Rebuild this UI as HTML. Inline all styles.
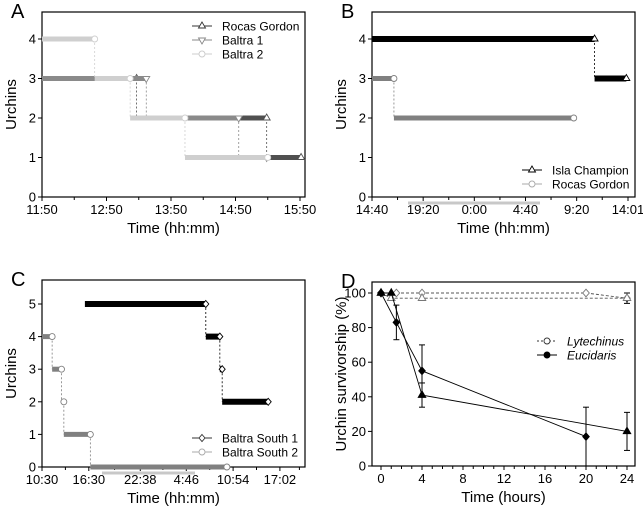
<!DOCTYPE html>
<html><head><meta charset="utf-8"><style>
body{margin:0;background:#fff}
svg{font-family:"Liberation Sans",Arial,sans-serif}
</style></head><body>
<svg id="s" width="643" height="511" viewBox="0 0 643 511"></svg>
<script>
// ---- Panel A data (minutes from 11:50) ----
const aTicks=["11:50","12:50","13:50","14:50","15:50"];
const aRocasX=[0,88,209,241], aRocasY=[3,2,1];
const aB1X=[0,97,183,209], aB1Y=[3,2,1];
const aB2X=[0,49,82,133,210], aB2Y=[4,3,2,1];
// ---- Panel B data (hours from 14:40) ----
const bTicks=["14:40","19:20","0:00","4:40","9:20","14:01"];
const bIslaX=[0,20.3,23.2], bIslaY=[4,3];
const bRocasX=[0,2.0,18.4], bRocasY=[3,2];
// ---- Panel C data (hours from 10:30) ----
const cTicks=["10:30","16:30","22:38","4:46","10:54","17:02"];
const cS1X=[5.5,21,22.8,23.1,29], cS1Y=[5,4,3,2];
const cS2X=[0,1.3,2.5,2.8,6.2,23.7], cS2Y=[4,3,2,1,0];
// ---- Panel D data ----
const dTicks=[0,4,8,12,16,20,24];
const lytDX=[0,1.5,4,20,24], lytDY=[100,100,100,100,97];
const lytTX=[0,1,4,24], lytTY=[100,97,97,97], lytTE=[0,0,0,3];
const eucDX=[0,1.5,4,20], eucDY=[100,83,55,17], eucDE=[0,10,15,17];
const eucTX=[0,1,4,24], eucTY=[100,100,41,20], eucTE=[0,0,7,11];

const S=document.getElementById('s'),NS="http://www.w3.org/2000/svg";
function el(t,a,p){const e=document.createElementNS(NS,t);for(const k in a)e.setAttribute(k,a[k]);(p||S).appendChild(e);return e;}
function txt(x,y,s,a,p){const e=el('text',Object.assign({x:x,y:y},a||{}),p);e.textContent=s;return e;}

function panel(name,L,R,T,B,letter,ylabel,xlabel){
  const g=el('g',{});
  
  
  const f=el('rect',{x:L,y:T,width:R-L,height:B-T,fill:'none',stroke:'#000','stroke-width':1.2},g);
  
  const l=txt(L-31,T+6,letter,{'font-size':20},g);
  
  const yl=txt(0,0,ylabel,{'font-size':15,'text-anchor':'middle',transform:`translate(${L-26},${(T+B)/2}) rotate(-90)`},g);
  
  const xl=txt((L+R)/2,B+36,xlabel,{'font-size':15,'text-anchor':'middle'},g);
  
  return g;
}
function yaxis(g,L,vals,sy,fs){vals.forEach(v=>{el('line',{x1:L-4,x2:L,y1:sy(v),y2:sy(v),stroke:'#000'},g);
  const t=txt(L-6,sy(v)+4.5,String(v),{'font-size':fs||13,'text-anchor':'end'},g);
  });}
function xaxisPx(g,B,pos,labels,minor){pos.forEach((p,i)=>{el('line',{x1:p,x2:p,y1:B,y2:B+4,stroke:'#000'},g);
  const t=txt(p,B+17,labels[i],{'font-size':13,'text-anchor':'middle'},g);
  });
  (minor||[]).forEach(p=>el('line',{x1:p,x2:p,y1:B,y2:B+3,stroke:'#000'},g));}
function steps(g,xs,ys,sx,sy,col,mk,w){
  for(let i=0;i<ys.length;i++){
    const s=el('line',{x1:sx(xs[i]),x2:sx(xs[i+1]),y1:sy(ys[i]),y2:sy(ys[i]),stroke:col,'stroke-width':w||5},g);
    
    if(i<ys.length-1) el('line',{x1:sx(xs[i+1]),x2:sx(xs[i+1]),y1:sy(ys[i]),y2:sy(ys[i+1]),stroke:col,'stroke-width':0.8,'stroke-dasharray':'2,2'},g);
  }
  for(let i=0;i<ys.length;i++) marker(g,mk,sx(xs[i+1]),sy(ys[i]),col,'#fff',3);
}
function marker(g,t,x,y,st,fill,r){
  let m;
  if(t==='c') m=el('circle',{cx:x,cy:y,r:r},g);
  else if(t==='t') m=el('polygon',{points:`${x},${y-r-1} ${x-r-0.5},${y+r-1} ${x+r+0.5},${y+r-1}`},g);
  else if(t==='v') m=el('polygon',{points:`${x},${y+r+1} ${x-r-0.5},${y-r+1} ${x+r+0.5},${y-r+1}`},g);
  else m=el('polygon',{points:`${x},${y-r-0.5} ${x+r},${y} ${x},${y+r+0.5} ${x-r},${y}`},g);
  m.setAttribute('fill',fill);m.setAttribute('stroke',st);m.setAttribute('stroke-width',0.9);
  
}
function legend(g,x,y,items,fs){items.forEach((it,i)=>{const yy=y+i*14;
  const e=el('g',{},g);
  el('line',{x1:x,x2:x+20,y1:yy,y2:yy,stroke:it[1],'stroke-width':1,'stroke-dasharray':it[3]||''},e);
  marker(e,it[2],x+10,yy,it[1],it[4]||'#fff',3);
  txt(x+30,yy+4.5,it[0],{'font-size':fs||12,'font-style':it[5]||'normal'},e);});}

// ---------- Panel A ----------
{const L=42,R=305,T=12,B=197;const sx=v=>L+v*64.5/60, sy=v=>B-v*39.5;
 const g=panel('panel-a',L,R,T,B,'A','Urchins','Time (hh:mm)');
 yaxis(g,L,[0,1,2,3,4],sy);
 xaxisPx(g,B,aTicks.map((_,i)=>sx(i*60)),aTicks,[0,1,2,3].map(i=>sx(i*60+30)));
 steps(g,aRocasX,aRocasY,sx,sy,'#505050','t');
 steps(g,aB1X,aB1Y,sx,sy,'#8a8a8a','v');
 steps(g,aB2X,aB2Y,sx,sy,'#cfcfcf','c');
 legend(g,192,26,[['Rocas Gordon','#333','t'],['Baltra 1','#888','v'],['Baltra 2','#ccc','c']]);}
// ---------- Panel B ----------
{const L=372,R=635,T=12,B=197;const sx=v=>L+v*256/23.35, sy=v=>B-v*39.5;
 const g=panel('panel-b',L,R,T,B,'B','Urchins','Time (hh:mm)');
 yaxis(g,L,[0,1,2,3,4],sy);
 const tp=[0,4.667,9.333,14,18.667,23.35];
 xaxisPx(g,B,tp.map(sx),bTicks,[2.33,7,11.67,16.33,21].map(sx));
 const n=el('line',{x1:408,x2:540,y1:203,y2:203,stroke:'#c8c8c8','stroke-width':3},g);
 
 steps(g,bIslaX,bIslaY,sx,sy,'#000','t',6);
 steps(g,bRocasX,bRocasY,sx,sy,'#808080','c');
 legend(g,522,170,[['Isla Champion','#000','t'],['Rocas Gordon','#aaa','c']]);}
// ---------- Panel C ----------
{const L=42,R=305,T=280,B=467;const sx=v=>L+v*7.8, sy=v=>B-v*32.6;
 const g=panel('panel-c',L,R,T,B,'C','Urchins','Time (hh:mm)');
 yaxis(g,L,[0,1,2,3,4,5],sy);
 const tp=[0,6,12.6,18.5,24.5,30.5];
 xaxisPx(g,B,tp.map(sx),cTicks,[3,9.3,15.5,21.5,27.5,33].map(sx));
 const n=el('line',{x1:102,x2:195,y1:473,y2:473,stroke:'#c8c8c8','stroke-width':3},g);
 
 steps(g,cS2X,cS2Y,sx,sy,'#808080','c');
 steps(g,cS1X,cS1Y,sx,sy,'#000','d',6);
 legend(g,192,438,[['Baltra South 1','#333','d'],['Baltra South 2','#aaa','c']]);}
// ---------- Panel D ----------
{const L=372,R=635,T=282,B=466;const sx=v=>381+v*10.25, sy=v=>B-v*1.73;
 const g=panel('panel-d',L,R,T,B,'D','Urchin survivorship (%)','Time (hours)');
 yaxis(g,L,[0,20,40,60,80,100],sy);
 const mn=[];for(let i=1;i<=24;i++) if(i%4) mn.push(sx(i));
 xaxisPx(g,B,dTicks.map(sx),dTicks.map(String),mn);
 function series(xs,ys,es,mk,col,fill,dash){
   const p=el('polyline',{points:xs.map((x,i)=>sx(x)+','+sy(ys[i])).join(' '),fill:'none',stroke:col,'stroke-width':0.9,'stroke-dasharray':dash||''},g);
   
   xs.forEach((x,i)=>{if(es&&es[i]){const X=sx(x);el('line',{x1:X,x2:X,y1:sy(ys[i]+es[i]),y2:sy(Math.max(0,ys[i]-es[i])),stroke:'#000'},g);
     [ys[i]+es[i],Math.max(0,ys[i]-es[i])].forEach(v=>el('line',{x1:X-3,x2:X+3,y1:sy(v),y2:sy(v),stroke:'#000'},g));}
     marker(g,mk,sx(x),sy(ys[i]),col==='#000'?'#000':'#777',fill,3.3);});
 }
 series(lytDX,lytDY,null,'d','#555','#fff','3,2');
 series(lytTX,lytTY,lytTE,'t','#555','#fff','3,2');
 series(eucDX,eucDY,eucDE,'d','#000','#000');
 series(eucTX,eucTY,eucTE,'t','#000','#000');
 legend(g,537,341,[['Lytechinus','#333','c','2,2','#fff','italic'],['Eucidaris','#000','c','','#000','italic']],12);}
</script>
</body></html>
